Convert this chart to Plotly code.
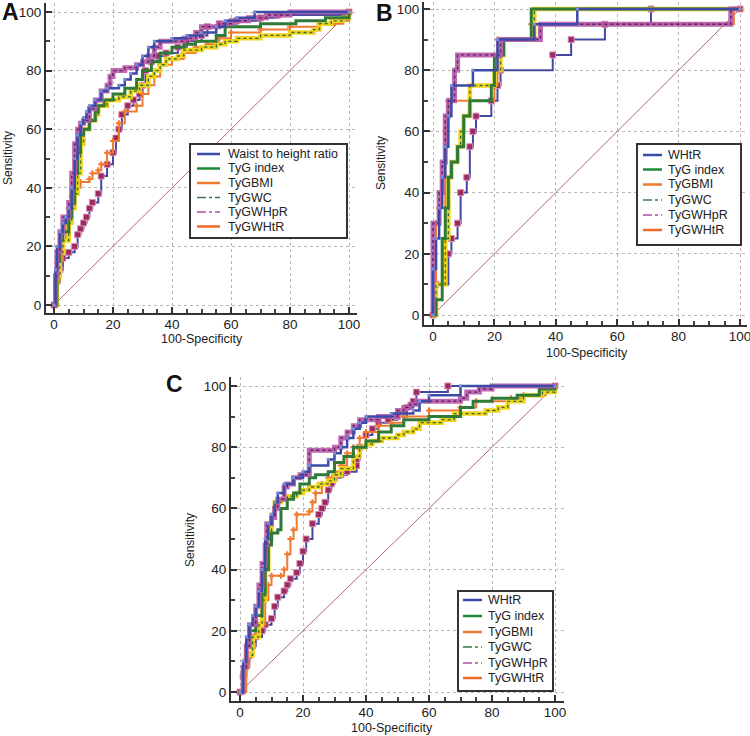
import plotly.graph_objects as go

# series names
names_a = ["Waist to height ratio", "TyG index", "TyGBMI", "TyGWC", "TyGWHpR", "TyGWHtR"]
names_bc = ["WHtR", "TyG index", "TyGBMI", "TyGWC", "TyGWHpR", "TyGWHtR"]
tick_vals = [0, 20, 40, 60, 80, 100]

# ---- panel A (100-specificity, sensitivity), step corners
a_whtr_x = [0, 0.5, 1, 2, 3, 4, 5, 6, 7, 8, 9, 10, 11, 12, 14, 16, 18, 22, 24, 26, 28, 30, 32, 34, 40, 45, 50, 55, 58, 62, 68, 100]
a_whtr_y = [0, 12, 20, 25, 28, 30, 33, 40, 50, 58, 62, 64, 66, 68, 70, 73, 74, 75, 77, 79, 82, 85, 88, 90, 91, 92, 93, 95, 97, 98, 100, 100]
a_tyg_x = [0, 1, 2, 3, 5, 6, 7, 8, 9, 10, 12, 14, 15, 17, 20, 24, 28, 30, 33, 36, 40, 44, 48, 55, 58, 70, 82, 92, 100]
a_tyg_y = [0, 15, 22, 25, 30, 35, 45, 52, 58, 60, 63, 66, 68, 70, 72, 74, 77, 80, 83, 86, 88, 89, 90, 92, 95, 96, 97, 98, 100]
a_bmi_x = [0, 1, 2, 3, 4, 5, 6, 7, 9, 12, 13, 15, 16, 18, 20, 22, 24, 28, 30, 32, 34, 36, 40, 44, 48, 52, 56, 60, 70, 80, 90, 95, 98, 100]
a_bmi_y = [0, 8, 15, 22, 28, 33, 37, 40, 42, 43, 45, 46, 48, 52, 56, 62, 66, 68, 72, 75, 78, 82, 84, 86, 88, 89, 91, 93, 94, 95, 96, 96, 97, 100]
a_wc_x = [0, 1, 2, 3, 5, 6, 7, 8, 9, 10, 12, 14, 15, 18, 22, 26, 29, 32, 34, 36, 38, 42, 44, 50, 55, 58, 62, 70, 80, 88, 90, 94, 98, 100]
a_wc_y = [0, 10, 18, 22, 28, 33, 38, 45, 55, 60, 63, 65, 68, 70, 71, 73, 75, 78, 80, 82, 84, 85, 87, 88, 89, 90, 91, 92, 93, 94, 96, 97, 98, 100]
a_whpr_x = [0, 0.5, 1, 2, 3, 5, 6, 7, 8, 9, 10, 12, 14, 16, 18, 19, 20, 24, 28, 30, 32, 34, 36, 44, 48, 50, 56, 60, 66, 72, 80, 100]
a_whpr_y = [0, 10, 18, 25, 30, 35, 45, 55, 60, 62, 63, 67, 70, 73, 75, 78, 80, 81, 82, 83, 85, 88, 90, 91, 93, 95, 96, 97, 98, 99, 100, 100]
a_whtr2_x = [0, 1, 2, 3, 5, 7, 8, 9, 10, 11, 12, 13, 15, 16, 18, 20, 21, 22, 23, 25, 27, 29, 30, 31, 33, 35, 38, 42, 45, 50, 52, 56, 62, 70, 76, 100]
a_whtr2_y = [0, 8, 12, 16, 18, 20, 24, 26, 28, 30, 33, 35, 38, 44, 48, 52, 57, 60, 65, 68, 70, 72, 75, 80, 83, 85, 86, 88, 90, 92, 95, 96, 97, 98, 99, 100]

# ---- panel B
b_whtr_x = [0, 0, 1, 2, 3, 4, 5, 6, 13, 21, 33, 47, 100]
b_whtr_y = [0, 15, 25, 35, 45, 55, 65, 75, 80, 90, 95, 100, 100]
b_tyg_x = [0, 1, 3, 4, 5, 6, 8, 10, 12, 19, 20, 23, 32, 32, 100]
b_tyg_y = [0, 5, 25, 35, 45, 50, 55, 65, 70, 75, 85, 90, 95, 100, 100]
b_bmi_x = [0, 1, 1, 2, 4, 5, 20, 21, 32, 98, 100]
b_bmi_y = [0, 10, 30, 35, 60, 70, 75, 90, 95, 100, 100]
b_wc_x = [0, 1, 4, 5, 6, 8, 9, 10, 12, 20, 22, 23, 33, 33, 100]
b_wc_y = [0, 10, 25, 45, 50, 55, 60, 65, 75, 80, 85, 90, 95, 100, 100]
b_whpr_x = [0, 0, 2, 3, 4, 5, 7, 8, 22, 35, 97, 100]
b_whpr_y = [0, 30, 40, 50, 65, 70, 80, 85, 90, 95, 100, 100]
b_whtr2_x = [0, 1, 5, 6, 8, 9, 11, 12, 13, 14, 19, 21, 22, 39, 45, 56, 71, 100]
b_whtr2_y = [0, 10, 20, 25, 30, 40, 45, 55, 60, 65, 70, 75, 80, 85, 90, 95, 100, 100]

# ---- panel C
c_whtr_x = [0, 1, 2, 3, 4, 5, 6, 7, 8, 9, 10, 11, 12, 14, 17, 20, 22, 28, 30, 32, 34, 36, 38, 40, 48, 55, 57, 60, 70, 100]
c_whtr_y = [0, 10, 18, 22, 25, 28, 33, 40, 50, 55, 58, 62, 65, 68, 70, 72, 74, 76, 78, 80, 83, 86, 88, 90, 91, 92, 95, 97, 100, 100]
c_tyg_x = [0, 1, 2, 3, 5, 7, 8, 9, 10, 12, 13, 15, 17, 19, 22, 24, 28, 30, 33, 36, 40, 44, 48, 52, 60, 70, 74, 80, 88, 95, 100]
c_tyg_y = [0, 8, 15, 20, 25, 32, 40, 48, 52, 53, 60, 63, 65, 68, 70, 71, 72, 75, 77, 80, 82, 85, 87, 89, 90, 93, 95, 96, 97, 99, 100]
c_bmi_x = [0, 2, 3, 4, 5, 6, 8, 9, 10, 13, 14, 15, 16, 17, 18, 22, 23, 24, 26, 28, 30, 32, 34, 36, 38, 40, 44, 48, 52, 60, 70, 75, 86, 90, 97, 100]
c_bmi_y = [0, 8, 12, 18, 20, 22, 30, 35, 38, 38, 40, 45, 50, 53, 58, 59, 62, 65, 68, 70, 72, 74, 78, 80, 83, 85, 87, 88, 90, 92, 93, 95, 96, 97, 98, 100]
c_wc_x = [0, 1, 2, 4, 6, 7, 8, 9, 10, 11, 13, 15, 18, 20, 22, 25, 28, 30, 32, 36, 38, 40, 42, 45, 50, 52, 55, 57, 64, 68, 75, 78, 82, 85, 90, 96, 100]
c_wc_y = [0, 8, 12, 18, 22, 30, 40, 50, 58, 62, 63, 64, 65, 66, 67, 68, 69, 71, 73, 77, 80, 81, 82, 83, 84, 85, 86, 88, 89, 91, 91, 92, 93, 95, 97, 98, 100]
c_whpr_x = [0, 1, 2, 3, 5, 6, 7, 8, 8.5, 10, 11, 12, 14, 15, 17, 19, 22, 22, 30, 32, 34, 36, 38, 44, 50, 52, 54, 56, 70, 72, 76, 80, 100]
c_whpr_y = [0, 8, 15, 22, 28, 35, 42, 48, 55, 57, 60, 63, 67, 68, 70, 71, 76, 79, 80, 83, 85, 87, 89, 90, 92, 93, 94, 95, 96, 98, 99, 100, 100]
c_whtr2_x = [0, 1, 2, 3, 4, 5, 7, 8, 10, 11, 12, 14, 15, 16, 18, 19, 20, 21, 23, 25, 26, 27, 28, 29, 30, 32, 34, 37, 37, 38, 40, 42, 44, 47, 50, 53, 55, 56, 66, 100]
c_whtr2_y = [0, 5, 10, 12, 15, 18, 20, 22, 24, 28, 31, 33, 35, 37, 39, 42, 46, 50, 55, 58, 60, 62, 66, 68, 70, 71, 72, 74, 76, 80, 84, 86, 88, 89, 90, 93, 95, 98, 100, 100]

panels = {
    "A": [(a_whtr_x, a_whtr_y), (a_tyg_x, a_tyg_y), (a_bmi_x, a_bmi_y),
          (a_wc_x, a_wc_y), (a_whpr_x, a_whpr_y), (a_whtr2_x, a_whtr2_y)],
    "B": [(b_whtr_x, b_whtr_y), (b_tyg_x, b_tyg_y), (b_bmi_x, b_bmi_y),
          (b_wc_x, b_wc_y), (b_whpr_x, b_whpr_y), (b_whtr2_x, b_whtr2_y)],
    "C": [(c_whtr_x, c_whtr_y), (c_tyg_x, c_tyg_y), (c_bmi_x, c_bmi_y),
          (c_wc_x, c_wc_y), (c_whpr_x, c_whpr_y), (c_whtr2_x, c_whtr2_y)],
}

W, H = 750, 736
FONT = "Liberation Sans, Arial, sans-serif"

# pixel layout of each panel: axes box (left, right, top, bottom) and where 0/100 land
geom = {
    "A": dict(box=(46, 357, 3, 313), ref=(54, 349, 12, 305), ax="", legend=(190, 347, 144, 238),
              rows=[154, 168.5, 183, 197.5, 212, 226.5], sample=(197, 220), text=226,
              names=names_a, letter=(10, 12), ylab=(8, 158), xlab=(202, 339)),
    "B": dict(box=(424, 747, 2, 325), ref=(433, 740, 9, 315), ax="2", legend=(637, 741, 144, 245),
              rows=[155, 169.5, 184.5, 200, 215, 230], sample=(643, 662), text=666,
              names=names_bc, letter=(384, 13), ylab=(381, 163), xlab=(587, 353)),
    "C": dict(box=(231, 564, 377, 701), ref=(240, 555, 386, 692), ax="3", legend=(458, 553, 591, 691),
              rows=[600, 616, 632, 647, 663, 678], sample=(463, 482), text=486,
              names=names_bc, letter=(174, 384), ylab=(190, 540), xlab=(392, 728)),
}

NAVY = "#3B4BA8"
legend_styles = [
    dict(color=NAVY, width=2.5, dash="solid"),
    dict(color="#1F8A3A", width=2.5, dash="solid"),
    dict(color="#F07830", width=2.5, dash="solid"),
    dict(color="#3A7A4A", width=1.5, dash="dashdot"),
    dict(color="#B050A0", width=1.5, dash="dashdot"),
    dict(color="#F06A28", width=2.5, dash="solid"),
]


def px_x(v):
    return v / W


def px_y(v):
    return 1 - v / H


def curve_traces(i, x, y, xa, ya):
    common = dict(x=x, y=y, xaxis="x" + xa, yaxis="y" + ya, showlegend=False,
                  line_shape="hv", hoverinfo="skip", cliponaxis=False)
    if i == 0:
        return [go.Scatter(mode="lines+markers", line=dict(color=NAVY, width=2.5),
                           marker=dict(symbol="square", size=3, color="#7E8CD8"), **common)]
    if i == 1:
        return [go.Scatter(mode="lines", line=dict(color="#2E7A36", width=3), **common)]
    if i == 2:
        return [go.Scatter(mode="lines+markers", line=dict(color="#F07A30", width=2),
                           marker=dict(symbol="cross", size=5, color="#F07A30"), **common)]
    if i == 3:
        return [go.Scatter(mode="lines", line=dict(color="#F2D31B", width=4.5), **common),
                go.Scatter(mode="lines", line=dict(color="#2F6B3A", width=1.3, dash="dot"), **common)]
    if i == 4:
        return [go.Scatter(mode="lines", line=dict(color="rgba(182,88,168,0.9)", width=5), **common),
                go.Scatter(mode="lines", line=dict(color="#5E2466", width=1.4, dash="dot"), **common)]
    return [go.Scatter(mode="lines+markers", line=dict(color="#4548A0", width=2),
                       marker=dict(symbol="square", size=6, color="#9C2A5C",
                                   line=dict(color="#D890B8", width=1)), **common)]


fig = go.Figure()
shapes = []
annotations = []
draw_order = [5, 2, 3, 1, 4, 0]

for key, g in geom.items():
    ax = g["ax"]
    L, R, T, B = g["box"]
    x0p, x100p, y100p, y0p = g["ref"]
    sx = (x100p - x0p) / 100
    sy = (y0p - y100p) / 100
    xr = [(L - x0p) / sx, (R - x0p) / sx]
    yr = [(y0p - B) / sy, (y0p - T) / sy]

    # chance diagonal
    fig.add_trace(go.Scatter(x=[0, 100], y=[0, 100], mode="lines", xaxis="x" + ax, yaxis="y" + ax,
                             line=dict(color="#B46A6A", width=1), showlegend=False, hoverinfo="skip"))
    for i in draw_order:
        x, y = panels[key][i]
        for tr in curve_traces(i, x, y, ax, ax):
            fig.add_trace(tr)

    # ticks sit inside, in the gap between the offset spine and the data
    axis_common = dict(
        showline=True, linewidth=2, linecolor="#333333", ticks="inside", ticklen=6, tickwidth=2,
        tickcolor="#333333", tickvals=tick_vals, showgrid=True, gridcolor="#B8B8B8", griddash="dot",
        gridwidth=1, zeroline=False, tickfont=dict(family=FONT, size=13.5, color="#222222"),
        fixedrange=True, automargin=False, ticklabeloverflow="allow",
    )
    fig.update_layout(**{
        "xaxis" + ax: dict(domain=[px_x(L), px_x(R)], range=xr, anchor="y" + ax, ticklabelstandoff=-2,
                           minor=dict(ticks="inside", ticklen=4, tickwidth=1.5, tickcolor="#444444",
                                      dtick=5, tick0=0, showgrid=False),
                           **axis_common),
        "yaxis" + ax: dict(domain=[px_y(B), px_y(T)], range=yr, anchor="x" + ax,
                           minor=dict(ticks="inside", ticklen=4, tickwidth=1.5, tickcolor="#444444",
                                      dtick=10, tick0=0, showgrid=False),
                           **axis_common),
    })

    # legend box drawn by hand
    lx0, lx1, ly0, ly1 = g["legend"]
    shapes.append(dict(type="rect", xref="paper", yref="paper", x0=px_x(lx0), x1=px_x(lx1),
                       y0=px_y(ly1), y1=px_y(ly0), line=dict(color="#333333", width=2),
                       fillcolor="white", layer="above"))
    s0, s1 = g["sample"]
    for i, (name, ry) in enumerate(zip(g["names"], g["rows"])):
        st = legend_styles[i]
        shapes.append(dict(type="line", xref="paper", yref="paper", x0=px_x(s0), x1=px_x(s1),
                           y0=px_y(ry), y1=px_y(ry), layer="above",
                           line=dict(color=st["color"], width=st["width"], dash=st["dash"])))
        annotations.append(dict(text=name, xref="paper", yref="paper", x=px_x(g["text"]), y=px_y(ry),
                                xanchor="left", yanchor="middle", showarrow=False,
                                font=dict(family=FONT, size=12.5, color="#222222")))

    lx, ly = g["letter"]
    annotations.append(dict(text="<b>%s</b>" % key, xref="paper", yref="paper", x=px_x(lx), y=px_y(ly),
                            xanchor="center", yanchor="middle", showarrow=False,
                            font=dict(family=FONT, size=23, color="#111111")))
    yx, yy = g["ylab"]
    annotations.append(dict(text="Sensitivity", xref="paper", yref="paper", x=px_x(yx), y=px_y(yy),
                            xanchor="center", yanchor="middle", showarrow=False, textangle=-90,
                            font=dict(family=FONT, size=12, color="#222222")))
    xx, xy = g["xlab"]
    annotations.append(dict(text="100-Specificity", xref="paper", yref="paper", x=px_x(xx), y=px_y(xy),
                            xanchor="center", yanchor="middle", showarrow=False,
                            font=dict(family=FONT, size=12.5, color="#222222")))

fig.update_layout(
    width=W, height=H, autosize=False,
    margin=dict(l=0, r=0, t=0, b=0),
    paper_bgcolor="white", plot_bgcolor="white",
    shapes=shapes, annotations=annotations,
    font=dict(family=FONT),
)

# the page body has a default 8px margin; drop it so the figure fills the window
fig.write_html("out.html", config={"displayModeBar": False},
               post_script="document.body.style.margin='0';document.body.style.overflow='hidden';")
